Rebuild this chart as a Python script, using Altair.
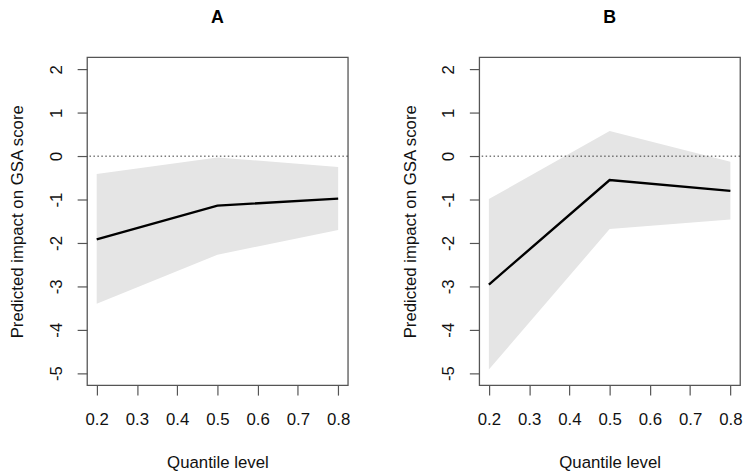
import altair as alt
import pandas as pd

# Data
quantiles = [0.2, 0.5, 0.8]
a_est = [-1.92, -1.14, -0.98]
a_lo = [-3.40, -2.27, -1.70]
a_hi = [-0.41, -0.03, -0.25]
b_est = [-2.96, -0.55, -0.80]
b_lo = [-4.92, -1.68, -1.46]
b_hi = [-0.99, 0.58, -0.13]

x_ticks = [0.2, 0.3, 0.4, 0.5, 0.6, 0.7, 0.8]
y_ticks = [-5, -4, -3, -2, -1, 0, 1, 2]

FONT = "Liberation Sans"
TXT = "#111111"
AX = "#555555"


def panel(label, est, lo, hi):
    df = pd.DataFrame({"q": quantiles, "est": est, "lo": lo, "hi": hi})
    xs = alt.Scale(domain=[0.176, 0.824], nice=False, zero=False)
    ys = alt.Scale(domain=[-5.28, 2.28], nice=False, zero=False)
    xaxis = alt.Axis(
        values=x_ticks, labelExpr="format(datum.value, '.1f')", title="Quantile level",
        domain=False, grid=False, tickSize=10, tickColor=AX, tickWidth=1.2,
        labelFont=FONT, labelFontSize=17, labelColor=TXT, labelPadding=25,
        labelBaseline="middle", labelFlush=False, labelOverlap=False,
        titleFont=FONT, titleFontSize=17, titleFontWeight="normal", titleColor=TXT,
        titleY=78, titleBaseline="middle",
    )
    yaxis = alt.Axis(
        values=y_ticks, labelExpr="'' + datum.value", title="Predicted impact on GSA score",
        domain=False, grid=False, tickSize=10, tickColor=AX, tickWidth=1.2,
        labelFont=FONT, labelFontSize=17, labelColor=TXT, labelPadding=21,
        labelAngle=270, labelAlign="center", labelBaseline="middle",
        labelFlush=False, labelOverlap=False,
        titleFont=FONT, titleFontSize=17, titleFontWeight="normal", titleColor=TXT,
        titleX=-70, titleBaseline="middle",
    )
    base = alt.Chart(df)
    band = base.mark_area(color="#e5e5e5", opacity=1).encode(
        x=alt.X("q:Q", scale=xs, axis=xaxis),
        y=alt.Y("lo:Q", scale=ys, axis=yaxis),
        y2="hi:Q",
    )
    zero = alt.Chart(pd.DataFrame({"z": [0]})).mark_rule(
        color="#333333", strokeWidth=1, strokeDash=[1.5, 2.5]
    ).encode(y=alt.Y("z:Q", scale=ys))
    line = base.mark_line(color="black", strokeWidth=2.4).encode(
        x=alt.X("q:Q", scale=xs), y=alt.Y("est:Q", scale=ys)
    )
    return alt.layer(band, zero, line).properties(
        width=264, height=332,
        title=alt.TitleParams(label, font=FONT, fontSize=18, fontWeight="bold",
                              color="#000000", offset=31, anchor="middle", frame="group"),
    )


chart = alt.hconcat(
    panel("A", a_est, a_lo, a_hi),
    panel("B", b_est, b_lo, b_hi),
    spacing=50,
).properties(
    padding={"top": -3, "left": 0, "right": 0, "bottom": 0}
).configure(background="white").configure_view(stroke=AX, strokeWidth=1.3)

chart.save("out.html", embed_options={"renderer": "svg", "actions": False})
